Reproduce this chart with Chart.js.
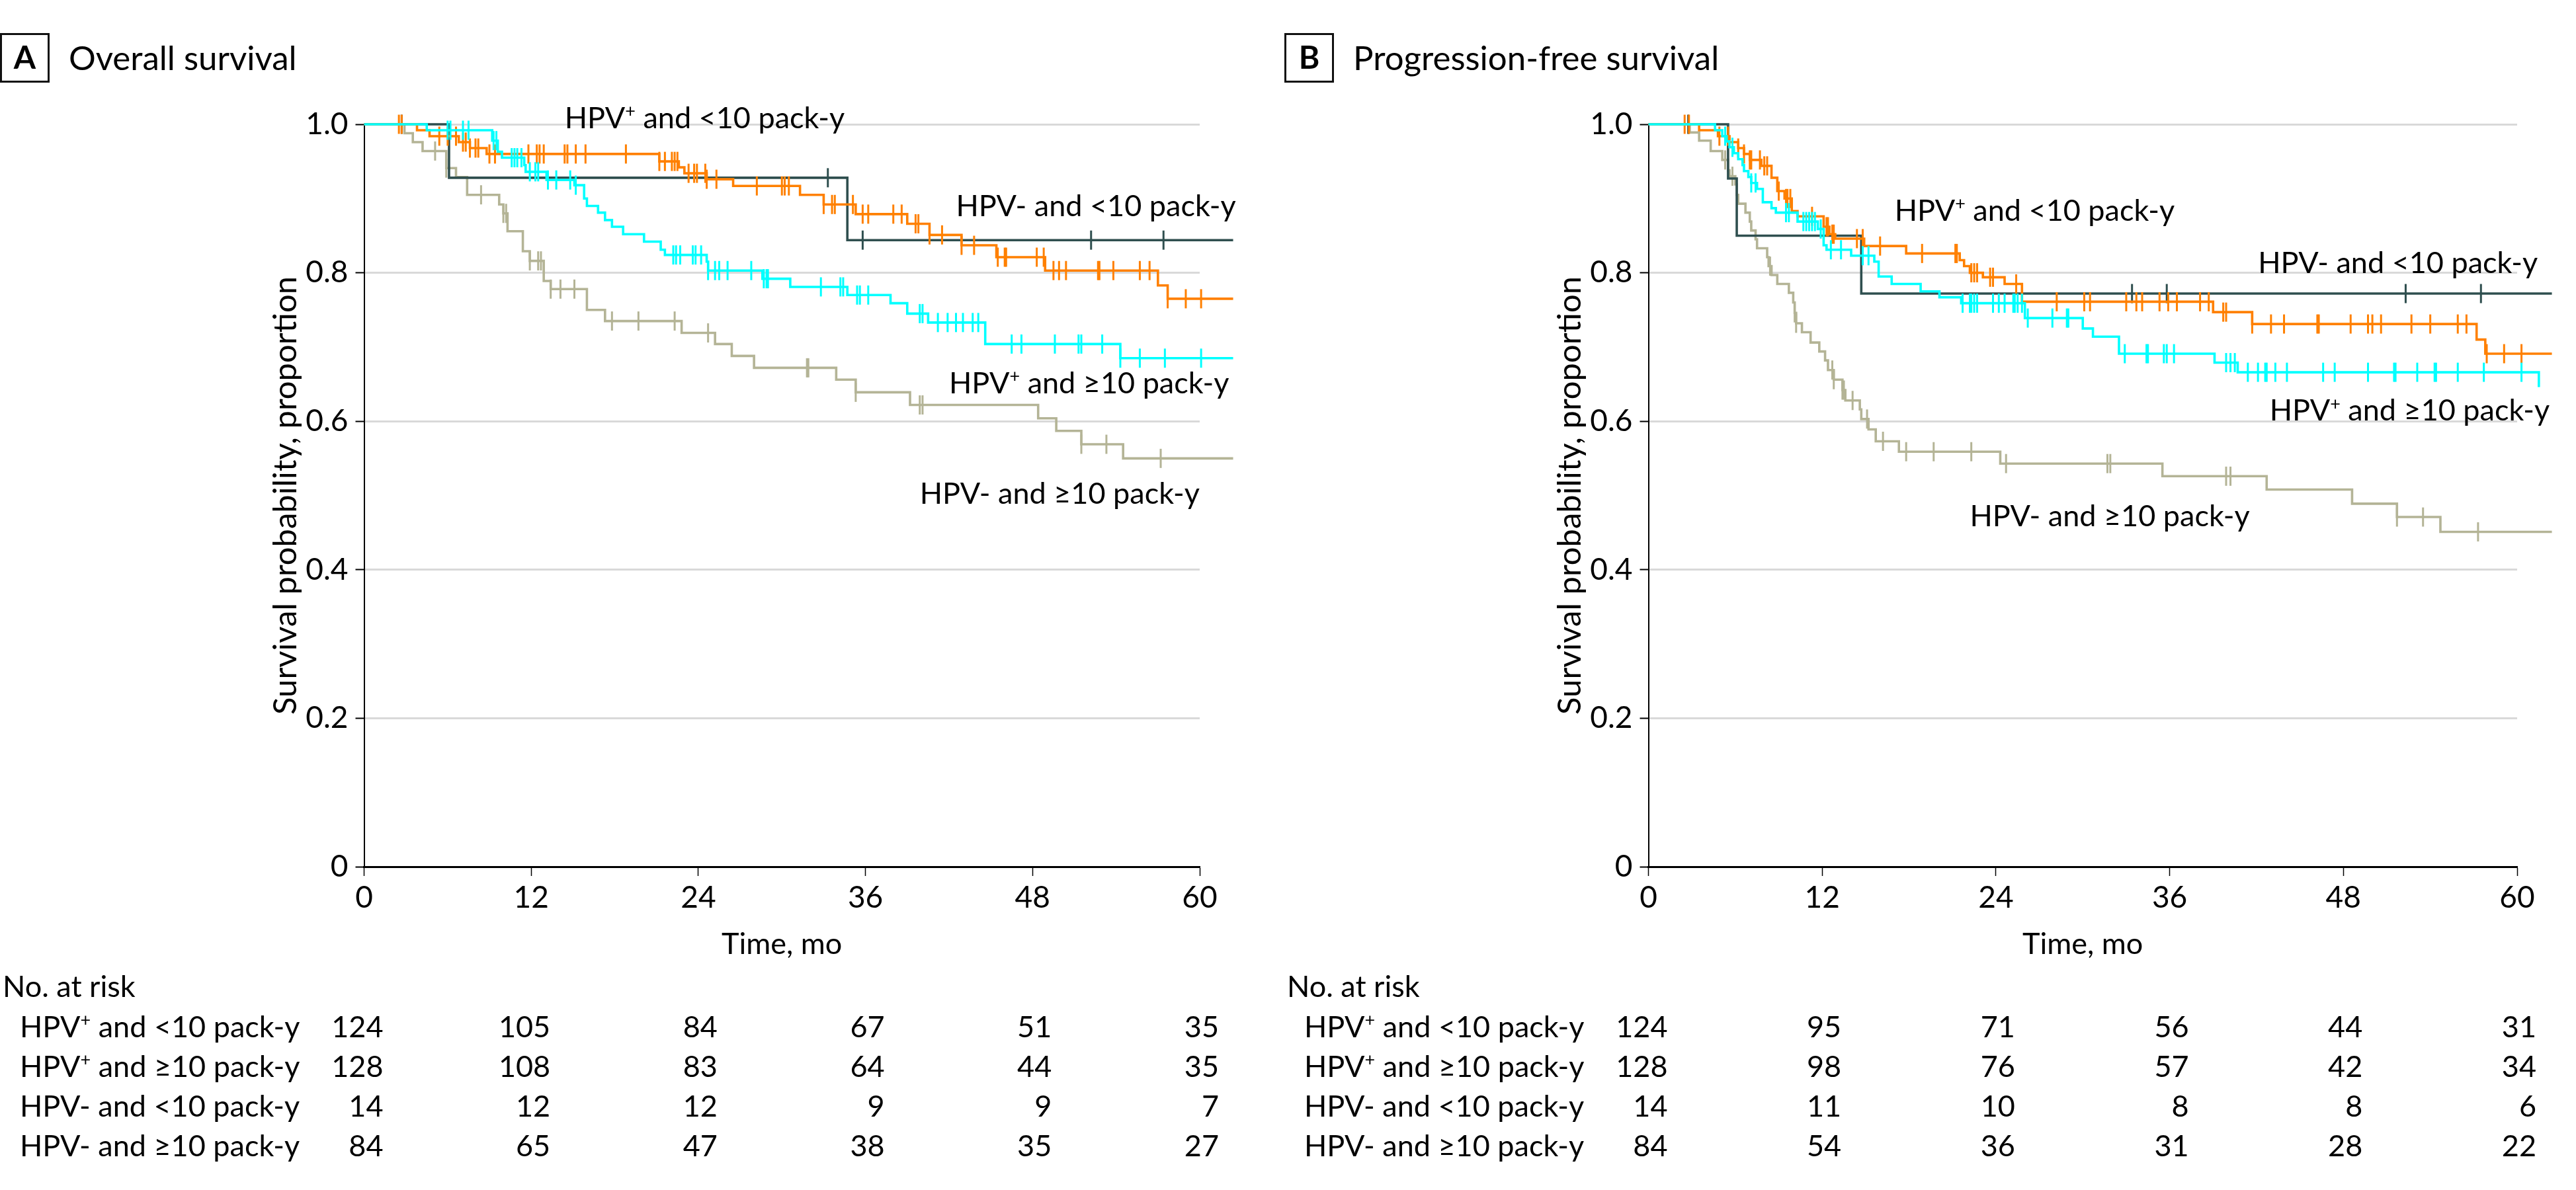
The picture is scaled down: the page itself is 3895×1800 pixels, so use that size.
<!DOCTYPE html>
<html>
<head>
<meta charset="utf-8">
<title>Survival by HPV status and smoking</title>
<script src="https://cdn.jsdelivr.net/npm/chart.js@4.4.1/dist/chart.umd.min.js"></script>
<style>
html, body { margin: 0; padding: 0; background: #fff; }
body { width: 3895px; height: 1800px; position: relative; overflow: hidden; font-family: Lato, 'Noto Sans', sans-serif; color: #000; }
.panel { position: absolute; top: 0; height: 1800px; }
.panel canvas { position: absolute; left: 0; top: 0; }
.txt { position: absolute; white-space: nowrap; line-height: 1; }
.txt sup { font-size: 0.6em; vertical-align: baseline; position: relative; top: -0.62em; }
.badge { position: absolute; left: 0; top: 50px; width: 69px; height: 69px; border: 3px solid #111; }
</style>
</head>
<body>
<div class="panel" id="panelA" style="left:0;width:1942px"><canvas id="chartA" width="1942" height="1800"></canvas></div>
<div class="panel" id="panelB" style="left:1942px;width:1953px"><canvas id="chartB" width="1953" height="1800"></canvas></div>
<script>
// ---- categories and ticks ----
const groupNames = ['HPV+ and <10 pack-y', 'HPV+ and \u226510 pack-y', 'HPV- and <10 pack-y', 'HPV- and \u226510 pack-y'];
const xTickValues = [0, 12, 24, 36, 48, 60];
const yTickValues = [0, 0.2, 0.4, 0.6, 0.8, 1.0];
const yTickLabels = ['0', '0.2', '0.4', '0.6', '0.8', '1.0'];
const riskMonths = [0, 12, 24, 36, 48, 60];

// ---- A: overall survival (step times, survival after step, censor times) ----
const osPosLowTime = [0, 3.8, 4.7, 6.8, 7.6, 8.8, 21.2, 22.6, 23.0, 24.6, 26.5, 31.3, 33.0, 35.3, 39.0, 40.6, 42.9, 45.4, 48.9, 57.0, 57.7, 62.4];
const osPosLowSurv = [1, 0.992, 0.984, 0.976, 0.968, 0.960, 0.950, 0.942, 0.934, 0.926, 0.917, 0.905, 0.892, 0.879, 0.866, 0.851, 0.837, 0.821, 0.803, 0.783, 0.765, 0.765];
const osPosLowCens = [2.5, 2.7, 5.4, 6.0, 6.6, 7.1, 7.3, 7.6, 8.0, 8.2, 9.0, 9.4, 11.8, 12.4, 12.6, 12.9, 14.4, 14.6, 15.2, 15.9, 18.8, 21.2, 21.6, 22.1, 22.3, 22.5, 23.3, 23.7, 23.9, 24.5, 24.6, 25.3, 28.2, 30.0, 30.2, 30.5, 33.0, 33.6, 33.8, 35.1, 35.8, 36.2, 38.0, 38.6, 39.6, 39.8, 40.6, 41.5, 42.9, 43.8, 45.5, 46.0, 46.1, 48.3, 48.8, 49.5, 49.9, 50.4, 52.7, 52.8, 53.8, 55.7, 56.4, 57.7, 59.0, 60.1];

const osPosHighTime = [0, 4.5, 9.2, 9.6, 9.9, 11.5, 11.6, 13.1, 15.1, 15.8, 16.0, 16.8, 17.3, 17.8, 18.6, 20.1, 21.3, 21.6, 24.6, 24.7, 28.6, 30.6, 34.7, 37.8, 39.0, 40.5, 44.6, 54.3, 62.4];
const osPosHighSurv = [1, 0.992, 0.978, 0.963, 0.955, 0.945, 0.936, 0.925, 0.918, 0.900, 0.890, 0.881, 0.871, 0.862, 0.852, 0.842, 0.831, 0.824, 0.815, 0.803, 0.792, 0.781, 0.770, 0.759, 0.745, 0.733, 0.704, 0.685, 0.685];
const osPosHighCens = [6.0, 6.2, 7.1, 7.5, 9.3, 9.5, 10.6, 10.8, 11.0, 11.3, 11.9, 12.3, 12.5, 13.2, 13.8, 14.8, 15.2, 22.2, 22.4, 22.7, 23.6, 23.8, 24.2, 24.7, 25.2, 25.5, 26.1, 27.8, 28.7, 28.9, 29.0, 32.8, 34.2, 34.4, 35.4, 35.6, 36.2, 39.9, 40.1, 41.2, 41.9, 42.5, 43.0, 43.7, 44.1, 46.5, 47.2, 49.6, 51.3, 51.5, 53.0, 54.3, 55.7, 57.5, 60.1];

const osNegLowTime = [0, 6.1, 34.7, 62.4];
const osNegLowSurv = [1, 0.928, 0.844, 0.844];
const osNegLowCens = [2.7, 33.3, 35.8, 52.2, 57.4];

const osNegHighTime = [0, 2.9, 3.5, 4.2, 5.9, 6.6, 7.4, 9.7, 10.0, 10.3, 11.4, 11.9, 12.9, 13.4, 16.0, 17.3, 22.8, 25.2, 26.4, 28.0, 33.9, 35.3, 39.2, 48.4, 49.7, 51.5, 54.5, 62.4];
const osNegHighSurv = [1, 0.988, 0.976, 0.964, 0.941, 0.929, 0.905, 0.892, 0.880, 0.856, 0.829, 0.816, 0.789, 0.778, 0.750, 0.735, 0.719, 0.704, 0.688, 0.672, 0.656, 0.639, 0.622, 0.604, 0.587, 0.569, 0.550, 0.550];
const osNegHighCens = [5.1, 5.9, 8.4, 10.0, 10.2, 11.9, 12.5, 12.7, 13.4, 14.1, 15.1, 17.8, 19.7, 22.3, 24.7, 31.8, 31.9, 35.3, 39.9, 40.1, 51.5, 53.3, 57.2];

// ---- B: progression-free survival ----
const pfsPosLowTime = [0, 3.5, 4.8, 5.6, 6.2, 6.6, 7.0, 7.8, 8.5, 8.9, 9.4, 9.9, 10.3, 12.1, 12.5, 12.9, 14.9, 17.8, 21.5, 21.8, 22.2, 23.1, 24.6, 25.8, 39.0, 41.7, 57.2, 57.8, 62.4];
const pfsPosLowSurv = [1, 0.992, 0.984, 0.976, 0.968, 0.960, 0.952, 0.944, 0.928, 0.910, 0.900, 0.883, 0.876, 0.862, 0.852, 0.846, 0.836, 0.826, 0.817, 0.809, 0.800, 0.794, 0.785, 0.761, 0.747, 0.731, 0.710, 0.691, 0.691];
const pfsPosLowCens = [2.5, 2.8, 4.9, 5.5, 6.2, 6.6, 7.0, 7.1, 7.7, 8.0, 8.2, 9.0, 9.5, 9.6, 9.8, 11.3, 12.3, 12.4, 12.7, 12.8, 14.4, 14.8, 16.0, 18.9, 21.2, 21.3, 22.3, 22.5, 22.7, 23.6, 23.8, 25.4, 28.2, 30.1, 30.5, 33.0, 33.7, 34.1, 35.3, 35.9, 36.5, 38.1, 38.7, 39.7, 39.9, 41.7, 43.0, 43.9, 46.2, 46.3, 48.5, 49.7, 50.0, 50.6, 52.7, 54.0, 55.9, 56.5, 57.9, 59.1, 60.3];

const pfsPosHighTime = [0, 4.6, 5.1, 5.4, 5.6, 5.9, 6.2, 6.5, 6.6, 6.9, 7.1, 7.5, 7.9, 8.5, 8.8, 10.3, 11.7, 12.1, 12.3, 14.0, 15.6, 15.9, 16.8, 18.8, 20.1, 21.6, 26.0, 30.0, 30.7, 32.5, 39.1, 40.7, 61.5, 62.4];
const pfsPosHighSurv = [1, 0.992, 0.984, 0.977, 0.969, 0.961, 0.953, 0.945, 0.937, 0.929, 0.921, 0.913, 0.895, 0.887, 0.881, 0.869, 0.859, 0.837, 0.831, 0.823, 0.815, 0.795, 0.785, 0.775, 0.767, 0.759, 0.739, 0.725, 0.714, 0.691, 0.679, 0.666, 0.646, 0.646];
const pfsPosHighCens = [5.3, 5.8, 7.1, 7.4, 9.5, 9.7, 10.7, 10.9, 11.1, 11.3, 11.5, 11.9, 12.6, 13.3, 14.8, 15.2, 21.7, 22.2, 22.3, 22.5, 22.7, 23.8, 24.2, 24.6, 25.2, 25.3, 25.5, 25.8, 26.2, 27.9, 28.9, 29.0, 32.9, 34.4, 34.5, 35.6, 35.8, 36.3, 39.9, 40.2, 40.5, 41.4, 42.1, 42.6, 42.7, 43.3, 44.1, 46.6, 47.4, 49.7, 51.5, 51.6, 53.1, 54.3, 54.4, 55.9, 57.7, 60.3];

const pfsNegLowTime = [0, 5.5, 6.1, 14.7, 62.4];
const pfsNegLowSurv = [1, 0.927, 0.850, 0.772, 0.772];
const pfsNegLowCens = [2.75, 33.4, 35.8, 52.3, 57.5];

const pfsNegHighTime = [0, 2.85, 3.5, 4.3, 5.1, 5.5, 5.6, 6.0, 6.1, 6.2, 6.7, 7.0, 7.1, 7.4, 7.5, 8.2, 8.3, 8.5, 8.9, 9.7, 10.0, 10.1, 10.2, 10.6, 11.2, 11.8, 12.2, 12.4, 12.8, 13.4, 13.6, 14.6, 14.7, 15.2, 15.7, 17.3, 24.3, 35.5, 42.7, 48.6, 51.7, 54.7, 62.4];
const pfsNegHighSurv = [1, 0.989, 0.978, 0.964, 0.952, 0.938, 0.930, 0.919, 0.905, 0.893, 0.881, 0.869, 0.857, 0.845, 0.833, 0.821, 0.809, 0.797, 0.785, 0.773, 0.760, 0.746, 0.732, 0.720, 0.706, 0.694, 0.682, 0.669, 0.656, 0.642, 0.628, 0.616, 0.603, 0.589, 0.573, 0.559, 0.543, 0.526, 0.508, 0.489, 0.471, 0.451, 0.451];
const pfsNegHighCens = [2.75, 5.3, 5.8, 8.4, 10.1, 10.2, 12.7, 12.8, 13.4, 13.5, 14.1, 15.1, 16.2, 17.8, 19.7, 22.3, 24.7, 31.7, 31.9, 39.9, 40.2, 51.7, 53.5, 57.3];

// ---- numbers at risk ----
const osRiskPosLow = [124, 105, 84, 67, 51, 35];
const osRiskPosHigh = [128, 108, 83, 64, 44, 35];
const osRiskNegLow = [14, 12, 12, 9, 9, 7];
const osRiskNegHigh = [84, 65, 47, 38, 35, 27];
const pfsRiskPosLow = [124, 95, 71, 56, 44, 31];
const pfsRiskPosHigh = [128, 98, 76, 57, 42, 34];
const pfsRiskNegLow = [14, 11, 10, 8, 8, 6];
const pfsRiskNegHigh = [84, 54, 36, 31, 28, 22];

// ---- styling ----
const groupColors = ['#ff8000', '#00ffff', '#2f4f4f', '#b4b496'];
const groupOrder = [2, 1, 3, 4];          // higher = drawn earlier (underneath)
const FONT_SIZE = 45;
const TICK_SIZE = 46;
const BASELINE_RATIO = 0.887;              // Lato baseline offset for line-height 1

Chart.defaults.font.family = "Lato, 'Noto Sans', sans-serif";
Chart.defaults.color = '#000';

/**
 * Survival value of a step curve at time t
 */
function survivalAt(time, surv, t) {
    let v = surv[0];
    for (let i = 0; i < time.length; i++) {
        if (time[i] <= t) v = surv[i];
    }
    return v;
}

function labelHtml(s) {
    return s.replace(/&/g, '&amp;').replace(/</g, '&lt;').replace('HPV+', 'HPV<sup>+</sup>');
}

/**
 * Put a text block in a panel, x is the anchor, baseline the text baseline
 */
function addText(panel, html, x, baseline, opts = {}) {
    const size = opts.size || FONT_SIZE;
    const el = document.createElement('div');
    el.className = 'txt';
    el.innerHTML = html;
    el.style.fontSize = size + 'px';
    el.style.left = x + 'px';
    el.style.top = (baseline - BASELINE_RATIO * size) + 'px';
    if (opts.weight) el.style.fontWeight = opts.weight;
    if (opts.align === 'right') el.style.transform = 'translateX(-100%)';
    if (opts.align === 'center') el.style.transform = 'translateX(-50%)';
    panel.appendChild(el);
    return el;
}

/**
 * Build one Kaplan-Meier panel
 */
function buildPanel(cfg) {
    const datasets = [];
    cfg.groups.forEach((g, i) => {
        datasets.push({
            type: 'line',
            label: groupNames[i],
            data: g.time.map((t, k) => ({ x: t, y: g.surv[k] })),
            stepped: 'before',
            borderColor: groupColors[i],
            borderWidth: 3.6,
            pointRadius: 0,
            fill: false,
            clip: false,
            order: groupOrder[i] * 2
        });
        datasets.push({
            type: 'scatter',
            label: groupNames[i] + ' (censored)',
            data: g.cens.map(t => ({ x: t, y: survivalAt(g.time, g.surv, t) })),
            pointStyle: 'line',
            pointRotation: 90,
            pointRadius: 14.5,
            pointHoverRadius: 14.5,
            pointBorderWidth: 3,
            pointBorderColor: groupColors[i],
            pointBackgroundColor: groupColors[i],
            clip: false,
            order: groupOrder[i] * 2 - 1
        });
    });

    const chart = new Chart(document.getElementById(cfg.canvas), {
        type: 'line',
        data: { datasets },
        options: {
            responsive: false,
            animation: false,
            devicePixelRatio: 1,
            events: [],
            layout: { padding: { left: 403, top: 188, right: cfg.rightPad, bottom: 345 } },
            plugins: {
                legend: { display: false },
                tooltip: { enabled: false }
            },
            scales: {
                x: {
                    type: 'linear',
                    min: 0,
                    max: 60,
                    afterBuildTicks: s => { s.ticks = xTickValues.map(v => ({ value: v })); },
                    afterFit: s => { s.height = 144; },
                    ticks: { padding: 6, autoSkip: false, maxRotation: 0, font: { size: TICK_SIZE } },
                    grid: { drawOnChartArea: false, drawTicks: true, tickLength: 14, tickColor: '#000', tickWidth: 1.5 },
                    border: { display: true, color: '#000', width: 3 },
                    title: { display: true, text: 'Time, mo', padding: 0, font: { size: FONT_SIZE } }
                },
                y: {
                    type: 'linear',
                    min: 0,
                    max: 1,
                    afterBuildTicks: s => { s.ticks = yTickValues.map(v => ({ value: v })); },
                    afterFit: s => { s.width = 147.5; },
                    ticks: {
                        padding: 11,
                        font: { size: TICK_SIZE },
                        callback: v => yTickLabels[yTickValues.indexOf(v)]
                    },
                    grid: {
                        color: c => (c.tick && c.tick.value === 0) ? 'rgba(0,0,0,0)' : '#d9d9d9',
                        lineWidth: 3,
                        drawTicks: true,
                        tickLength: 13,
                        tickColor: '#000',
                        tickWidth: 2
                    },
                    border: { display: true, color: '#000', width: 2 },
                    title: { display: true, text: 'Survival probability, proportion', padding: 0, font: { size: 49 } }
                }
            }
        }
    });

    const panel = document.getElementById(cfg.panel);
    const xs = chart.scales.x;
    const ys = chart.scales.y;

    // panel letter and title
    const badge = document.createElement('div');
    badge.className = 'badge';
    panel.appendChild(badge);
    addText(panel, cfg.letter, 37.5, 105, { size: 48, weight: 700, align: 'center' });
    addText(panel, cfg.title, 104, 106, { size: 51 });

    // curve labels
    cfg.labels.forEach((p, i) => {
        addText(panel, labelHtml(groupNames[i]), xs.getPixelForValue(p[0]), ys.getPixelForValue(p[1]));
    });

    // numbers at risk
    addText(panel, 'No. at risk', 4, 1509);
    cfg.risk.forEach((row, i) => {
        const base = 1570 + 60 * i;
        addText(panel, labelHtml(groupNames[i]), 30, base);
        row.forEach((n, j) => {
            addText(panel, String(n), xs.getPixelForValue(riskMonths[j]) + 29, base, { align: 'right' });
        });
    });
    return chart;
}

buildPanel({
    canvas: 'chartA',
    panel: 'panelA',
    rightPad: 128,
    letter: 'A',
    title: 'Overall survival',
    groups: [
        { time: osPosLowTime, surv: osPosLowSurv, cens: osPosLowCens },
        { time: osPosHighTime, surv: osPosHighSurv, cens: osPosHighCens },
        { time: osNegLowTime, surv: osNegLowSurv, cens: osNegLowCens },
        { time: osNegHighTime, surv: osNegHighSurv, cens: osNegHighCens }
    ],
    labels: [[14.4, 0.994], [42.0, 0.637], [42.5, 0.875], [39.9, 0.488]],
    risk: [osRiskPosLow, osRiskPosHigh, osRiskNegLow, osRiskNegHigh]
});

buildPanel({
    canvas: 'chartB',
    panel: 'panelB',
    rightPad: 89,
    letter: 'B',
    title: 'Progression-free survival',
    groups: [
        { time: pfsPosLowTime, surv: pfsPosLowSurv, cens: pfsPosLowCens },
        { time: pfsPosHighTime, surv: pfsPosHighSurv, cens: pfsPosHighCens },
        { time: pfsNegLowTime, surv: pfsNegLowSurv, cens: pfsNegLowCens },
        { time: pfsNegHighTime, surv: pfsNegHighSurv, cens: pfsNegHighCens }
    ],
    labels: [[17.0, 0.869], [42.9, 0.600], [42.1, 0.799], [22.2, 0.458]],
    risk: [pfsRiskPosLow, pfsRiskPosHigh, pfsRiskNegLow, pfsRiskNegHigh]
});
</script>
</body>
</html>
